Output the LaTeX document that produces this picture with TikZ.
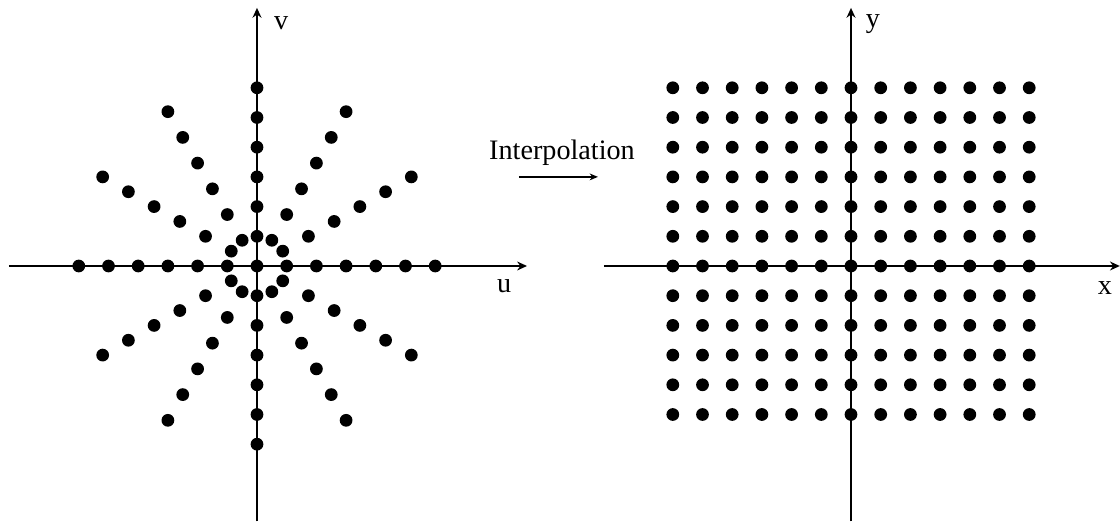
\documentclass[tikz,border=0pt]{standalone}
\usepackage{fontspec}
\setmainfont{Liberation Serif}
\usetikzlibrary{arrows.meta}

\begin{document}
\begin{tikzpicture}[
    axis/.style={-{Stealth[length=3.3mm,width=3mm]}, line width=1.9pt},
    lbl/.style={font=\fontsize{27}{32}\selectfont, inner sep=0pt},
    samp/.style={fill=black}
  ]
    \useasboundingbox (-8.653,-8.586) rectangle (29.057,8.956);

    % polar samples (u,v)
    \coordinate (ul) at (-8.35,0);
    \coordinate (ur) at (9.09,0);
    \coordinate (ub) at (0,-8.6);
    \coordinate (ut) at (0,8.69);
    \draw[axis] (ul) -- (ur);
    \draw[axis] (ub) -- (ut);
    \node[lbl] (vlabel) at (0.81,8.18) {v};
    \node[lbl] (ulabel) at (8.32,-0.68) {u};
    \fill[samp] (0,0) circle (0.215);
    \foreach \a in {0,30,...,330}
      \foreach \r in {1,...,6}
        \fill[samp] (\a:\r) circle (0.215);

    % interpolation step
    \node[lbl] (interp) at (10.27,3.80) {Interpolation};
    \coordinate (ia) at (8.82,3.0);
    \coordinate (ib) at (11.48,3.0);
    \draw[-{Stealth[length=2.8mm,width=2.3mm]}, line width=1.3pt] (ia) -- (ib);

    % cartesian grid (x,y)
    \coordinate (xl) at (11.68,0);
    \coordinate (xr) at (29.05,0);
    \coordinate (yb) at (20,-8.6);
    \coordinate (yt) at (20,8.69);
    \draw[axis] (xl) -- (xr);
    \draw[axis] (yb) -- (yt);
    \node[lbl] (ylabel) at (20.74,8.15) {y};
    \node[lbl] (xlabel) at (28.55,-0.74) {x};
    \foreach \i in {-6,...,6}
      \foreach \j in {-5,...,6}
        \fill[samp] ({20+\i},\j) circle (0.215);
  \end{tikzpicture}
\end{document}
